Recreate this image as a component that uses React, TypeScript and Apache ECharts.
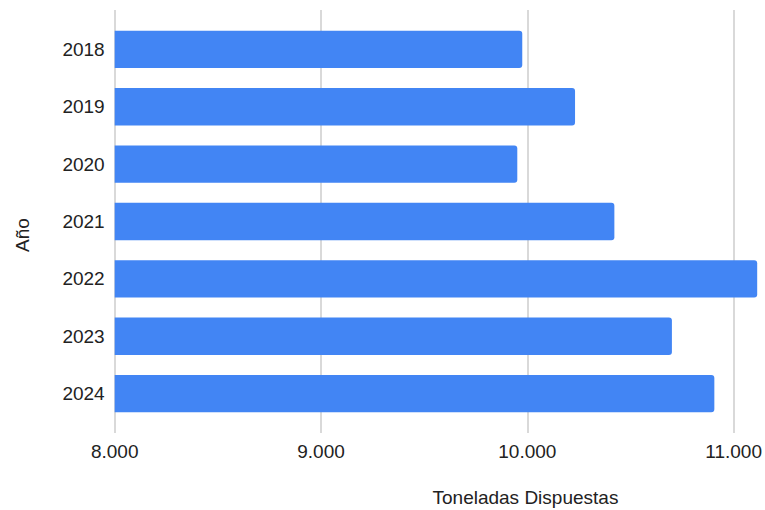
import React, { useEffect, useRef } from "react";
import * as echarts from "echarts";

const years = ["2018", "2019", "2020", "2021", "2022", "2023", "2024"];
const toneladas = [9969, 10224, 9945, 10414, 11104, 10692, 10897];
const xTicks = [8000, 9000, 10000, 11000];
const xAxisTitle = "Toneladas Dispuestas";
const yAxisTitle = "Año";

const FONT = "'Liberation Sans', Arial, Helvetica, sans-serif";
const fmt = (v: number) => String(v).replace(/\B(?=(\d{3})+(?!\d))/g, ".");

export default function App() {
  const ref = useRef<HTMLDivElement>(null);
  useEffect(() => {
    if (!ref.current) return;
    const chart = echarts.init(ref.current, undefined, { renderer: "svg" });
    const xMin = xTicks[0];
    const xMax = xTicks[xTicks.length - 1];
    chart.setOption({
      animation: false,
      backgroundColor: "#ffffff",
      textStyle: { fontFamily: FONT },
      grid: [
        { left: 114.7, right: 4.5, top: 20.7, bottom: 87.7 },
        { left: 114.7, right: 29.3, top: 10, bottom: 77 },
      ],
      xAxis: [
        {
          gridIndex: 0,
          type: "value",
          min: xMin,
          max: 11120,
          show: false,
          splitLine: { show: false },
        },
        {
          gridIndex: 1,
          type: "value",
          min: xMin,
          max: xMax,
          interval: 1000,
          axisLine: { show: false },
          axisTick: { show: false },
          axisLabel: {
            formatter: (v: number) => fmt(v),
            color: "#222222",
            fontSize: 19,
            fontFamily: FONT,
            margin: 9,
          },
          splitLine: { show: true, lineStyle: { color: "#cccccc", width: 1.5 } },
        },
      ],
      yAxis: [
        {
          gridIndex: 0,
          type: "category",
          data: years,
          inverse: true,
          axisLine: { show: false },
          axisTick: { show: false },
          axisLabel: {
            color: "#222222",
            fontSize: 19,
            fontFamily: FONT,
            margin: 10,
          },
          splitLine: { show: false },
        },
        {
          gridIndex: 1,
          type: "value",
          show: false,
        },
      ],
      graphic: [
        {
          type: "text",
          left: 432.5,
          top: 488,
          style: {
            text: xAxisTitle,
            fill: "#222222",
            fontSize: 19,
            fontFamily: FONT,
          },
        },
        {
          type: "text",
          x: 22,
          y: 235,
          rotation: Math.PI / 2,
          style: {
            text: yAxisTitle,
            fill: "#222222",
            fontSize: 19,
            fontFamily: FONT,
            align: "center",
            verticalAlign: "middle",
          },
        },
      ],
      series: [
        {
          type: "bar",
          xAxisIndex: 0,
          yAxisIndex: 0,
          data: toneladas,
          barCategoryGap: "35%",
          itemStyle: { color: "#4285f4", borderRadius: [0, 3, 3, 0] },
          z: 5,
        },
      ],
    });
    return () => chart.dispose();
  }, []);
  return (
    <div
      ref={ref}
      style={{ position: "fixed", left: 0, top: 0, width: 765, height: 510 }}
    />
  );
}
